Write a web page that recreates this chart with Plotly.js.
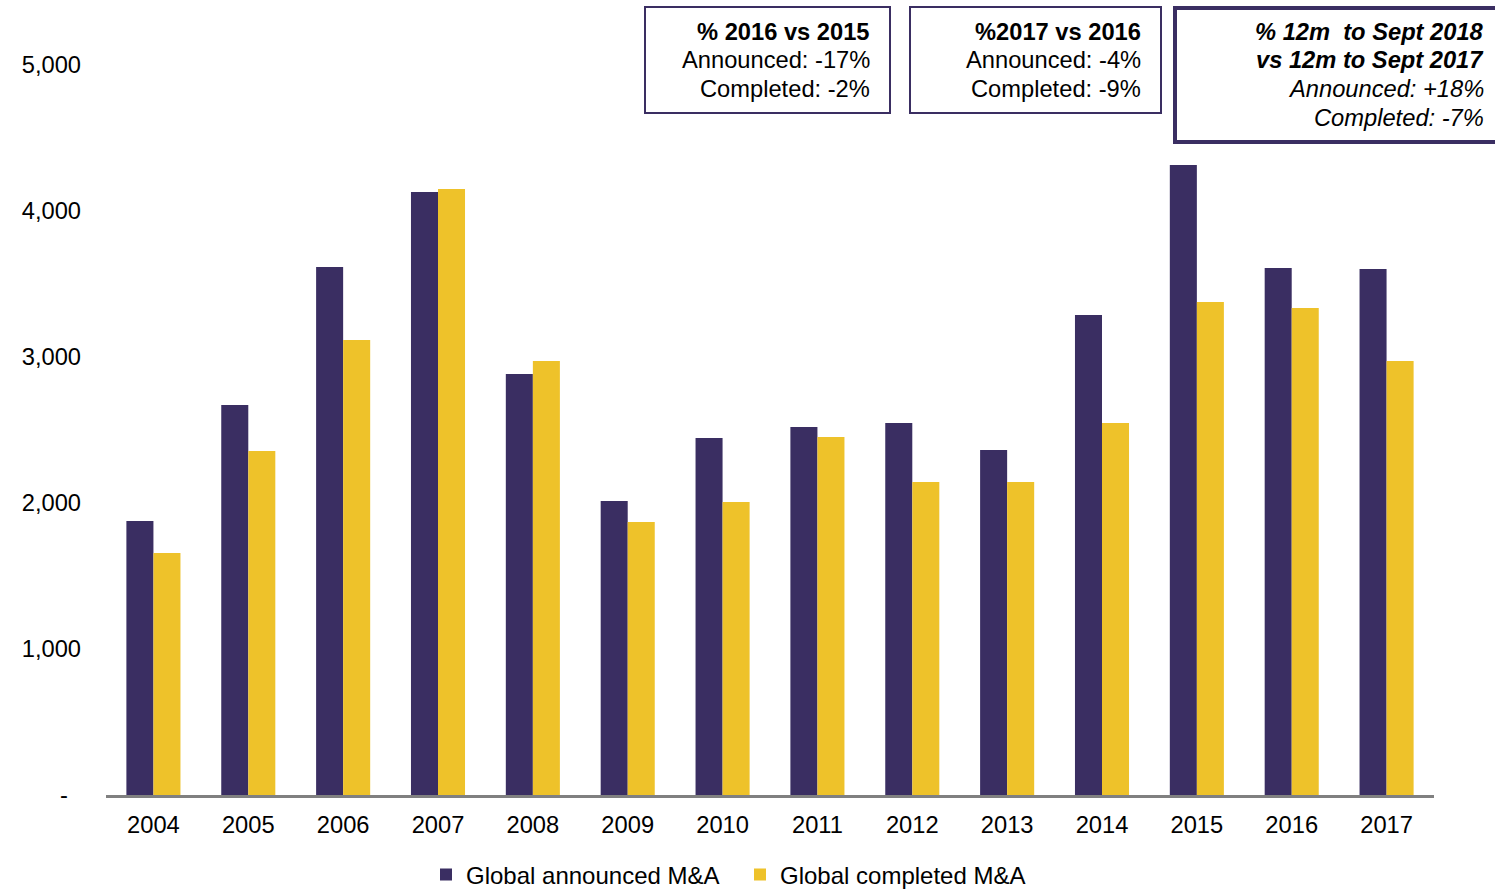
<!DOCTYPE html>
<html>
<head>
<meta charset="utf-8">
<script src="https://cdn.plot.ly/plotly-3.0.1.min.js"></script>
<style>
html,body{margin:0;padding:0;background:#fff;}
#chart{width:1495px;height:889px;}
</style>
</head>
<body>
<div id="chart"></div>
<script>
var years = ['2004','2005','2006','2007','2008','2009','2010','2011','2012','2013','2014','2015','2016','2017'];
var announced = [1877, 2671, 3616, 4130, 2884, 2014, 2445, 2521, 2548, 2363, 3288, 4315, 3610, 3603];
var completed = [1658, 2356, 3116, 4151, 2973, 1870, 2007, 2452, 2144, 2144, 2548, 3377, 3336, 2973];
var yTickVals = [0, 1000, 2000, 3000, 4000, 5000];
var yTickText = ['-\u00a0\u00a0', '1,000', '2,000', '3,000', '4,000', '5,000'];
var seriesNames = ['Global announced M&A', 'Global completed M&A'];

var box1Lines = ['<b>% 2016 vs 2015</b>', 'Announced: -17%', 'Completed: -2%'];
var box2Lines = ['<b>%2017 vs 2016</b>', 'Announced: -4%', 'Completed: -9%'];
var box3Lines = ['<b><i>% 12m\u00a0 to Sept 2018</i></b>', '<b><i>vs 12m to Sept 2017</i></b>', '<i>Announced: +18%</i>', '<i>Completed: -7%</i>'];

var PURPLE = '#3A2E62';
var YELLOW = '#EEC22A';
var FONT = 'Liberation Sans, Arial, sans-serif';

var L = 106, R = 1434, T = 65, B = 795;
function px(x){ return (x - L) / (R - L); }
function py(y){ return (B - y) / (B - T); }

var traces = [
  {type:'bar', x:years, y:announced, name:seriesNames[0], marker:{color:PURPLE}},
  {type:'bar', x:years, y:completed, name:seriesNames[1], marker:{color:YELLOW}}
];

var shapes = [
  {type:'rect', xref:'paper', yref:'paper', x0:px(645), x1:px(890), y0:py(113), y1:py(7), line:{color:PURPLE, width:2}},
  {type:'rect', xref:'paper', yref:'paper', x0:px(910), x1:px(1161), y0:py(113), y1:py(7), line:{color:PURPLE, width:2}},
  {type:'rect', xref:'paper', yref:'paper', x0:px(1175), x1:px(1500), y0:py(142), y1:py(8), line:{color:PURPLE, width:4}}
];

var annotations = [];
function addLines(lines, xRight, yStart){
  lines.forEach(function(t, i){
    annotations.push({xref:'paper', yref:'paper', x:px(xRight), y:py(yStart + i*28.7),
      xanchor:'right', yanchor:'middle', showarrow:false, text:t, align:'right',
      font:{family:FONT, size:23.7, color:'#000'}});
  });
}
addLines(box1Lines, 872, 31.5);
addLines(box2Lines, 1143, 31.5);
addLines(box3Lines, 1486, 31.5);

var layout = {
  width:1495, height:889,
  margin:{l:L, r:1495-R, t:T, b:889-B, autoexpand:false},
  paper_bgcolor:'#fff', plot_bgcolor:'#fff',
  barmode:'group', bargap:0.43, bargroupgap:0,
  font:{family:FONT, size:23.7, color:'#000'},
  xaxis:{type:'category', showgrid:false, zeroline:false, showline:true, linecolor:'#808080', linewidth:2.5,
         ticks:'', tickfont:{family:FONT, size:23.7, color:'#000'}, ticklabelstandoff:7},
  yaxis:{range:[0,5000], showgrid:false, zeroline:false, showline:false, tickmode:'array',
         tickvals:yTickVals, ticktext:yTickText, ticks:'', ticklabelstandoff:24,
         tickfont:{family:FONT, size:23.7, color:'#000'}},
  showlegend:true,
  legend:{orientation:'h', x:px(426), xanchor:'left', y:py(875), yanchor:'middle', entrywidth:269,
          font:{family:FONT, size:24, color:'#000'}, bgcolor:'rgba(0,0,0,0)', traceorder:'normal'},
  shapes:shapes,
  annotations:annotations
};

Plotly.newPlot('chart', traces, layout, {displayModeBar:false, staticPlot:true});
</script>
</body>
</html>
